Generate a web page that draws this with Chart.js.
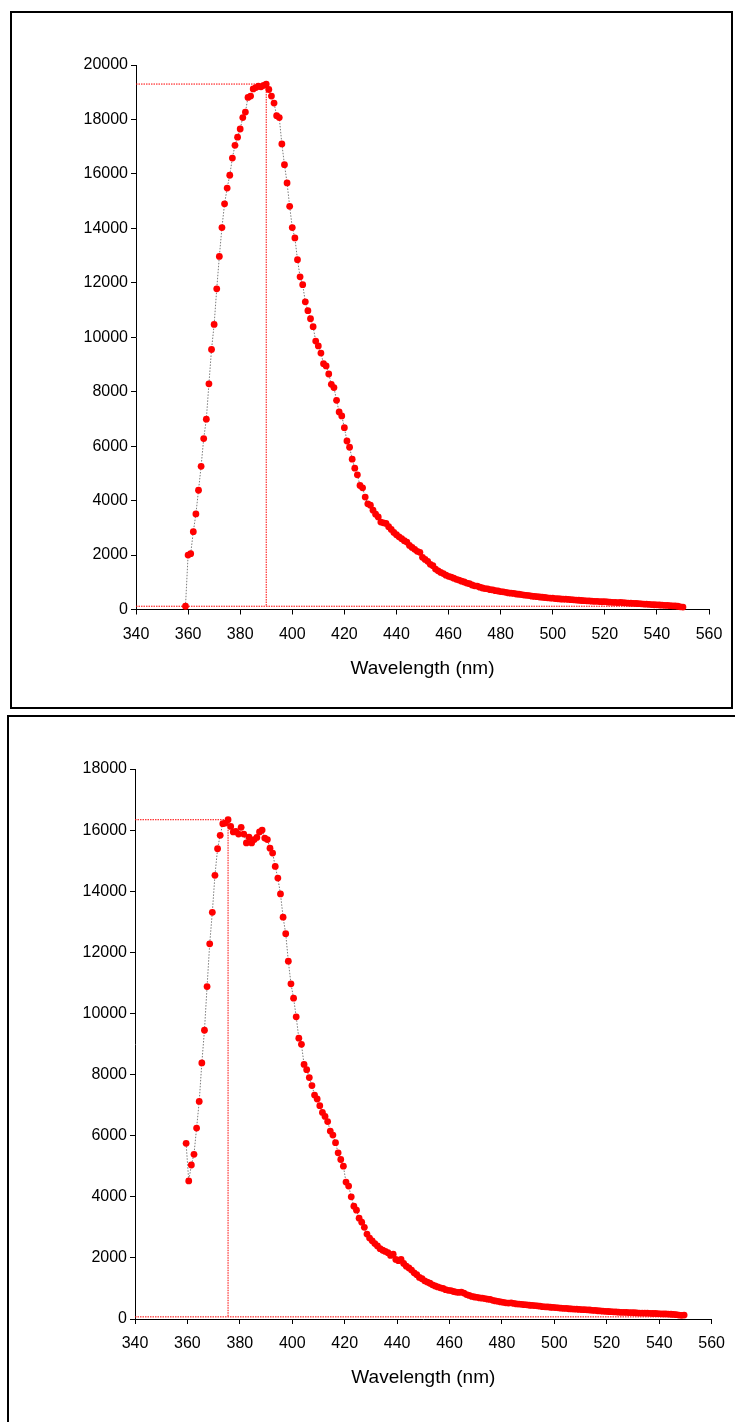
<!DOCTYPE html>
<html>
<head>
<meta charset="utf-8">
<script src="https://cdn.jsdelivr.net/npm/chart.js@4.4.0/dist/chart.umd.min.js"></script>
<style>
  html, body { margin: 0; padding: 0; background: #fff; }
  body { width: 735px; height: 1422px; position: relative; overflow: hidden; }
  .frame { position: absolute; border: 2px solid #000; box-sizing: border-box; }
  canvas { position: absolute; left: 0; }
</style>
</head>
<body>
<div class="frame" style="left:10px; top:11px; width:723px; height:698px;"></div>
<div class="frame" style="left:7px; top:715px; width:800px; height:800px;"></div>
<canvas id="spectrum1" width="735" height="712" style="top:0px;"></canvas>
<canvas id="spectrum2" width="735" height="710" style="top:712px;"></canvas>
<script>
// wavelength grid (1 nm steps) and intensities
const start1 = 359;
const intensity1 = [
  120, 2000, 2050, 2860, 3510, 4380, 5260, 6280, 6990, 8290,
  9550, 10470, 11780, 12970, 14030, 14900, 15480, 15950, 16580, 17050,
  17350, 17650, 18070, 18270, 18810, 18860, 19120, 19170, 19220, 19200,
  19250, 19300, 19100, 18860, 18600, 18140, 18070, 17100, 16340, 15670,
  14810, 14030, 13650, 12850, 12220, 11930, 11300, 10975, 10680, 10390,
  9860, 9680, 9420, 9030, 8945, 8650, 8270, 8150, 7685, 7255,
  7110, 6680, 6190, 5960, 5520, 5190, 4945, 4555, 4470, 4130,
  3880, 3830, 3650, 3500, 3400, 3210, 3185, 3160, 3040, 2940,
  2830, 2745, 2670, 2600, 2525, 2475, 2355, 2280, 2210, 2135,
  2100, 1915, 1840, 1770, 1660, 1610, 1485, 1420, 1360, 1320,
  1260, 1220, 1190, 1150, 1110, 1080, 1040, 1010, 970, 950,
  900, 870, 860, 820, 790, 770, 760, 730, 720, 690,
  680, 660, 650, 630, 610, 600, 590, 570, 560, 550,
  530, 520, 510, 490, 480, 470, 460, 450, 440, 430,
  420, 415, 400, 395, 385, 380, 380, 370, 360, 355,
  345, 340, 330, 325, 320, 315, 305, 300, 300, 290,
  285, 290, 275, 270, 265, 260, 255, 260, 250, 240,
  235, 230, 225, 220, 215, 210, 200, 195, 190, 180,
  175, 170, 165, 160, 155, 150, 140, 135, 130, 120,
  100, 90
];
const baseline1 = 120;

const start2 = 359.5;
const intensity2 = [
  5750, 4520, 5040, 5390, 6250, 7120, 8380, 9450, 10880, 12280,
  13310, 14520, 15390, 15830, 16210, 16230, 16340, 16120, 15940, 15960,
  15870, 16090, 15870, 15580, 15770, 15580, 15690, 15760, 15940, 16000,
  15740, 15690, 15410, 15250, 14810, 14430, 13910, 13150, 12610, 11710,
  10970, 10500, 9890, 9190, 8990, 8330, 8160, 7900, 7640, 7330,
  7200, 6980, 6760, 6630, 6460, 6150, 6020, 5770, 5440, 5220,
  5000, 4480, 4350, 4000, 3690, 3560, 3300, 3170, 3000, 2780,
  2650, 2560, 2470, 2390, 2300, 2250, 2210, 2170, 2080, 2120,
  1950, 1910, 1950, 1820, 1730, 1670, 1600, 1510, 1450, 1360,
  1320, 1250, 1210, 1170, 1120, 1080, 1050, 1020, 1000, 960,
  940, 930, 900, 880, 870, 880, 850, 800, 770, 740,
  720, 710, 690, 680, 670, 650, 640, 610, 590, 580,
  560, 545, 530, 520, 530, 510, 495, 490, 480, 470,
  465, 450, 445, 440, 430, 420, 405, 400, 395, 385,
  380, 375, 365, 355, 350, 345, 335, 330, 325, 320,
  315, 310, 305, 300, 295, 285, 280, 270, 265, 255,
  250, 245, 240, 235, 230, 225, 220, 220, 215, 210,
  210, 205, 200, 195, 195, 190, 190, 185, 180, 180,
  175, 170, 165, 165, 160, 155, 150, 140, 130, 120,
  130
];
const baseline2 = 70;

const xTicks = [340, 360, 380, 400, 420, 440, 460, 480, 500, 520, 540, 560];
const yMax1 = 20000;
const yMax2 = 18000;

const FONT = '"Liberation Sans", Arial, sans-serif';

function makeChart(canvasId, start, values, baseline, yMax, box) {
  const points = values.map((v, i) => ({ x: start + i, y: v }));
  const peak = Math.max(...values);
  const peakWl = points[values.indexOf(peak)].x;
  const lastWl = points[points.length - 1].x;
  const xMin = xTicks[0];
  const refLine = (data) => ({
    data: data,
    showLine: true,
    borderColor: '#ff0000',
    borderWidth: 1,
    borderDash: [1.5, 1],
    pointRadius: 0,
    pointHoverRadius: 0,
    clip: false
  });

  return new Chart(document.getElementById(canvasId).getContext('2d'), {
    type: 'scatter',
    data: {
      datasets: [
        {
          data: points,
          showLine: true,
          borderColor: '#7a7a7a',
          borderWidth: 1,
          borderDash: [1.5, 1.5],
          pointRadius: 3.4,
          pointHoverRadius: 3.4,
          pointBackgroundColor: '#ff0000',
          pointBorderWidth: 0,
          clip: false
        },
        refLine([{ x: xMin, y: peak }, { x: peakWl, y: peak }]),
        refLine([{ x: peakWl, y: peak }, { x: peakWl, y: baseline }]),
        refLine([{ x: xMin, y: baseline }, { x: lastWl, y: baseline }])
      ]
    },
    options: {
      responsive: false,
      animation: false,
      devicePixelRatio: 1,
      layout: { padding: { left: 0, top: box.top, right: box.right, bottom: 0 } },
      plugins: {
        legend: { display: false },
        tooltip: { enabled: false }
      },
      scales: {
        x: {
          type: 'linear',
          min: xTicks[0],
          max: xTicks[xTicks.length - 1],
          afterBuildTicks: (scale) => { scale.ticks = xTicks.map(v => ({ value: v })); },
          afterFit: (scale) => { scale.height = box.xHeight; },
          ticks: { color: '#000', font: { family: FONT, size: 16 }, padding: 10, maxRotation: 0, autoSkip: false, callback: v => v },
          grid: { drawOnChartArea: false, color: '#000', tickLength: 5 },
          border: { color: '#000', width: 1 },
          title: {
            display: true,
            text: 'Wavelength (nm)',
            color: '#000',
            font: { family: FONT, size: 19 },
            padding: { top: 0, bottom: box.titlePad }
          }
        },
        y: {
          min: 0,
          max: yMax,
          afterFit: (scale) => { scale.width = box.yWidth; },
          ticks: { stepSize: 2000, color: '#000', font: { family: FONT, size: 16 }, padding: 3, callback: v => v },
          grid: { drawOnChartArea: false, color: '#000', tickLength: 5 },
          border: { color: '#000', width: 1 }
        }
      }
    }
  });
}

const chart1 = makeChart('spectrum1', start1, intensity1, baseline1, yMax1,
  { top: 65, right: 26, xHeight: 102.5, yWidth: 136, titlePad: 32 });
const chart2 = makeChart('spectrum2', start2, intensity2, baseline2, yMax2,
  { top: 57, right: 23, xHeight: 103, yWidth: 135, titlePad: 32.5 });
</script>
</body>
</html>
